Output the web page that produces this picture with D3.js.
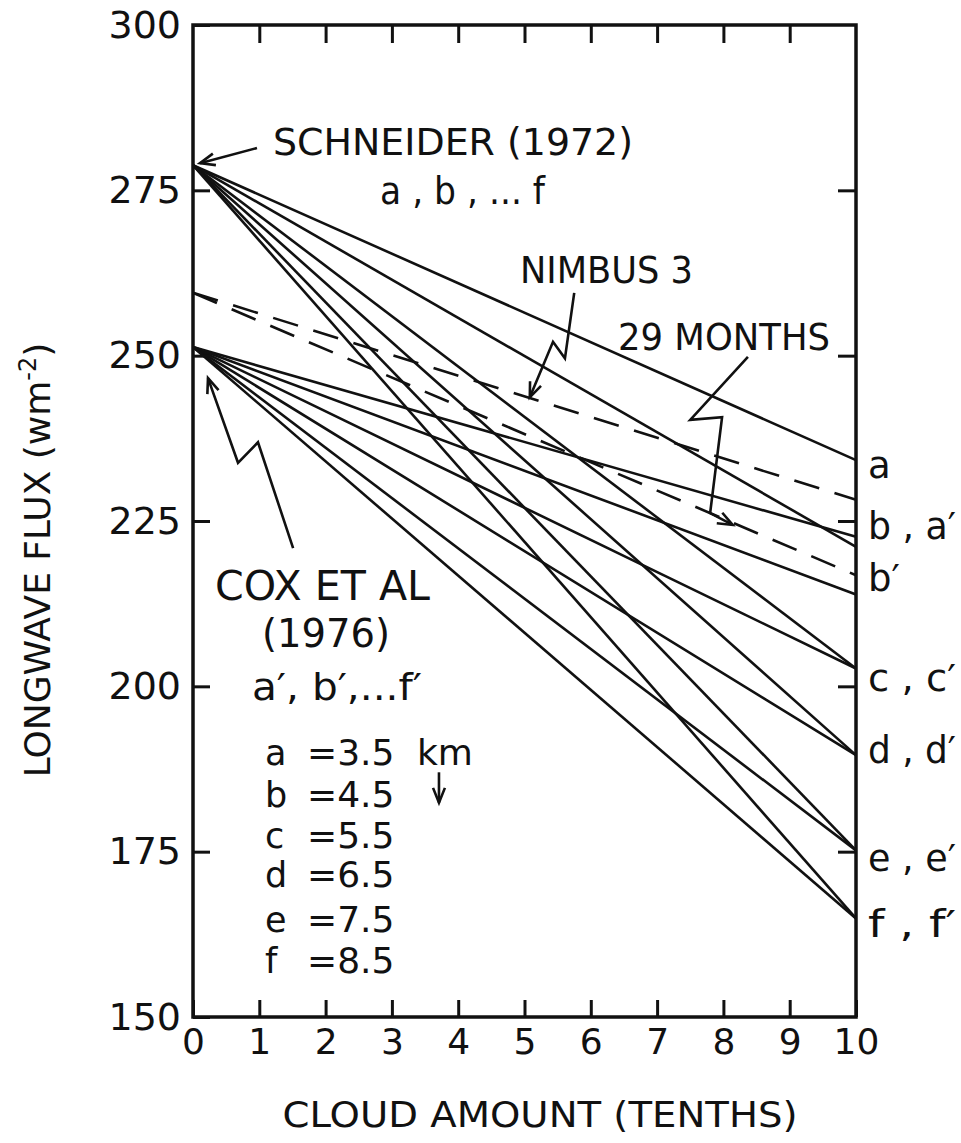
<!DOCTYPE html>
<html><head><meta charset="utf-8">
<script src="https://cdn.jsdelivr.net/npm/d3@7"></script>
<style>
html,body{margin:0;padding:0;background:#fff;}
text{font-family:"DejaVu Sans",sans-serif;fill:#111;}
</style></head>
<body>
<svg id="chart" width="961" height="1143"></svg>
<script>
// ---- data ----
const xTicks = [0,1,2,3,4,5,6,7,8,9,10];
const yTicks = [150,175,200,225,250,275,300];
const rightTicks = [175,200,225,250,275];
const cloudRange = [0, 10];
const schneiderNames = ["a","b","c","d","e","f"];
const schneiderStart = 278.8;
const schneiderEnd = [234.2, 221.1, 202.7, 189.6, 175.2, 164.9];
const coxNames = ["a′","b′","c′","d′","e′","f′"];
const coxStart = 251.3;
const coxEnd = [222.6, 213.9, 202.7, 189.6, 175.2, 164.9];
const nimbusStart = [259.5, 259.5];
const nimbusEnd = [228.2, 216.8];
const rightLabels = ["a","b , a′","b′","c , c′","d , d′","e , e′","f , f′"];
const rightLabelValues = [233.5, 224.2, 216.4, 201.2, 190.4, 174.1, 164.0];
const legendLetters = ["a","b","c","d","e","f"];
const legendValues = ["=3.5","=4.5","=5.5","=6.5","=7.5","=8.5"];

// ---- layout ----
const L = 193, R = 856, T = 25, B = 1017;
const svg = d3.select("#chart");
const x = d3.scaleLinear().domain(cloudRange).range([L, R]);
const y = d3.scaleLinear().domain([150, 300]).range([B, T]);
const ink = "#111";

// lines
const line = d3.line().x(d => x(d[0])).y(d => y(d[1]));
const g = svg.append("g");
schneiderEnd.forEach((v, i) => {
  g.append("path").attr("d", line([[cloudRange[0], schneiderStart],[cloudRange[1], v]]))
   .attr("fill","none").attr("stroke",ink).attr("stroke-width",2.6);
});
coxEnd.forEach((v, i) => {
  g.append("path").attr("d", line([[cloudRange[0], coxStart],[cloudRange[1], v]]))
   .attr("fill","none").attr("stroke",ink).attr("stroke-width",2.6);
});
nimbusEnd.forEach((v, i) => {
  g.append("path").attr("d", line([[cloudRange[0], nimbusStart[i]],[cloudRange[1], v]]))
   .attr("fill","none").attr("stroke",ink).attr("stroke-width",2.6)
   .attr("stroke-dasharray","26,16");
});

// frame
svg.append("rect").attr("x",L).attr("y",T).attr("width",R-L).attr("height",B-T)
  .attr("fill","none").attr("stroke",ink).attr("stroke-width",3.5);

// axes
const yAx = svg.append("g").attr("transform",`translate(${L},0)`)
  .call(d3.axisLeft(y).tickValues(yTicks).tickSize(-17).tickPadding(12).tickFormat(d3.format("d")));
yAx.select(".domain").remove();
yAx.selectAll("line").attr("stroke",ink).attr("stroke-width",3);
yAx.selectAll("text").attr("font-size","38px").attr("fill",ink).style("font-family","DejaVu Sans");

const xAx = svg.append("g").attr("transform",`translate(0,${B})`)
  .call(d3.axisBottom(x).tickValues(xTicks).tickSize(-17).tickPadding(11).tickFormat(d3.format("d")));
xAx.select(".domain").remove();
xAx.selectAll("line").attr("stroke",ink).attr("stroke-width",3);
xAx.selectAll("text").attr("font-size","36px").attr("fill",ink).style("font-family","DejaVu Sans");

const topAx = svg.append("g").attr("transform",`translate(0,${T})`)
  .call(d3.axisTop(x).tickValues(xTicks.slice(1,-1)).tickSize(-18).tickFormat(""));
topAx.select(".domain").remove();
topAx.selectAll("line").attr("stroke",ink).attr("stroke-width",3);

const rAx = svg.append("g").attr("transform",`translate(${R},0)`)
  .call(d3.axisRight(y).tickValues(rightTicks).tickSize(-18).tickFormat(""));
rAx.select(".domain").remove();
rAx.selectAll("line").attr("stroke",ink).attr("stroke-width",3);

// axis titles
svg.append("text").attr("x",540).attr("y",1127).attr("text-anchor","middle")
  .attr("font-size","36px").attr("textLength",515).attr("lengthAdjust","spacingAndGlyphs")
  .text("CLOUD AMOUNT (TENTHS)");
const yt = svg.append("text").attr("transform","translate(50,560) rotate(-90)")
  .attr("text-anchor","middle").attr("font-size","36px");
yt.append("tspan").text("LONGWAVE  FLUX  (wm");
yt.append("tspan").attr("font-size","24px").attr("dy","-14").text("-2");
yt.append("tspan").attr("dy","14").text(")");

// right labels
rightLabels.forEach((t, i) => {
  const tx = svg.append("text").attr("x",868).attr("y",y(rightLabelValues[i])).attr("dy","0.35em")
    .attr("font-size","37px").text(t);
  if (t.length > 2) tx.attr("textLength",88).attr("lengthAdjust","spacingAndGlyphs");
});

// annotations text
function txt(s, x0, y0, size, len) {
  const t = svg.append("text").attr("x",x0).attr("y",y0).attr("font-size",size).text(s);
  if (len) t.attr("textLength",len).attr("lengthAdjust","spacingAndGlyphs");
  return t;
}
txt("SCHNEIDER (1972)", 273, 155, "37px", 360);
txt("a , b , ... f", 380, 204, "37px", 165);
txt("NIMBUS 3", 520, 283, "37px", 173);
txt("29 MONTHS", 618, 350, "37px", 212);
txt("COX ET AL", 215, 600, "40px", 215);
txt("(1976)", 262, 647, "39px", 128);
txt("a′, b′,...f′", 252, 700, "38px", 170);
legendLetters.forEach((l, i) => {
  const yy = [765, 807, 848, 887, 932, 973][i];
  txt(l, 265, yy, "35px");
  txt(legendValues[i], 307, yy, "36px");
});
txt("km", 417, 765, "36px");

// arrows (data coordinates)
function arrow(pts, headAtStart) {
  const p = pts.map(d => [x(d[0]), y(d[1])]);
  svg.append("path").attr("d", d3.line()(p)).attr("fill","none")
    .attr("stroke",ink).attr("stroke-width",2.6).attr("stroke-linejoin","miter");
  const tip = headAtStart ? p[0] : p[p.length-1];
  const prev = headAtStart ? p[1] : p[p.length-2];
  const ang = Math.atan2(tip[1]-prev[1], tip[0]-prev[0]);
  const len = 16, w = 0.38;
  const a1 = [tip[0]-len*Math.cos(ang-w), tip[1]-len*Math.sin(ang-w)];
  const a2 = [tip[0]-len*Math.cos(ang+w), tip[1]-len*Math.sin(ang+w)];
  svg.append("path").attr("d", `M${a1}L${tip}L${a2}`).attr("fill","none")
    .attr("stroke",ink).attr("stroke-width",2.6);
}
arrow([[0.965,281.4],[0.106,279.1]], false);
arrow([[5.75,259.5],[5.61,249.6],[5.43,252.1],[5.08,243.7]], false);
arrow([[8.37,249.8],[7.50,240.3],[7.98,240.7],[7.80,226.2],[8.14,224.4]], false);
arrow([[0.226,246.6],[0.679,233.8],[0.98,236.9],[1.51,220.9]], true);
// legend arrow (km decreasing)
arrow([[3.71,187.0],[3.71,182.4]], false);
</script>
</body></html>
